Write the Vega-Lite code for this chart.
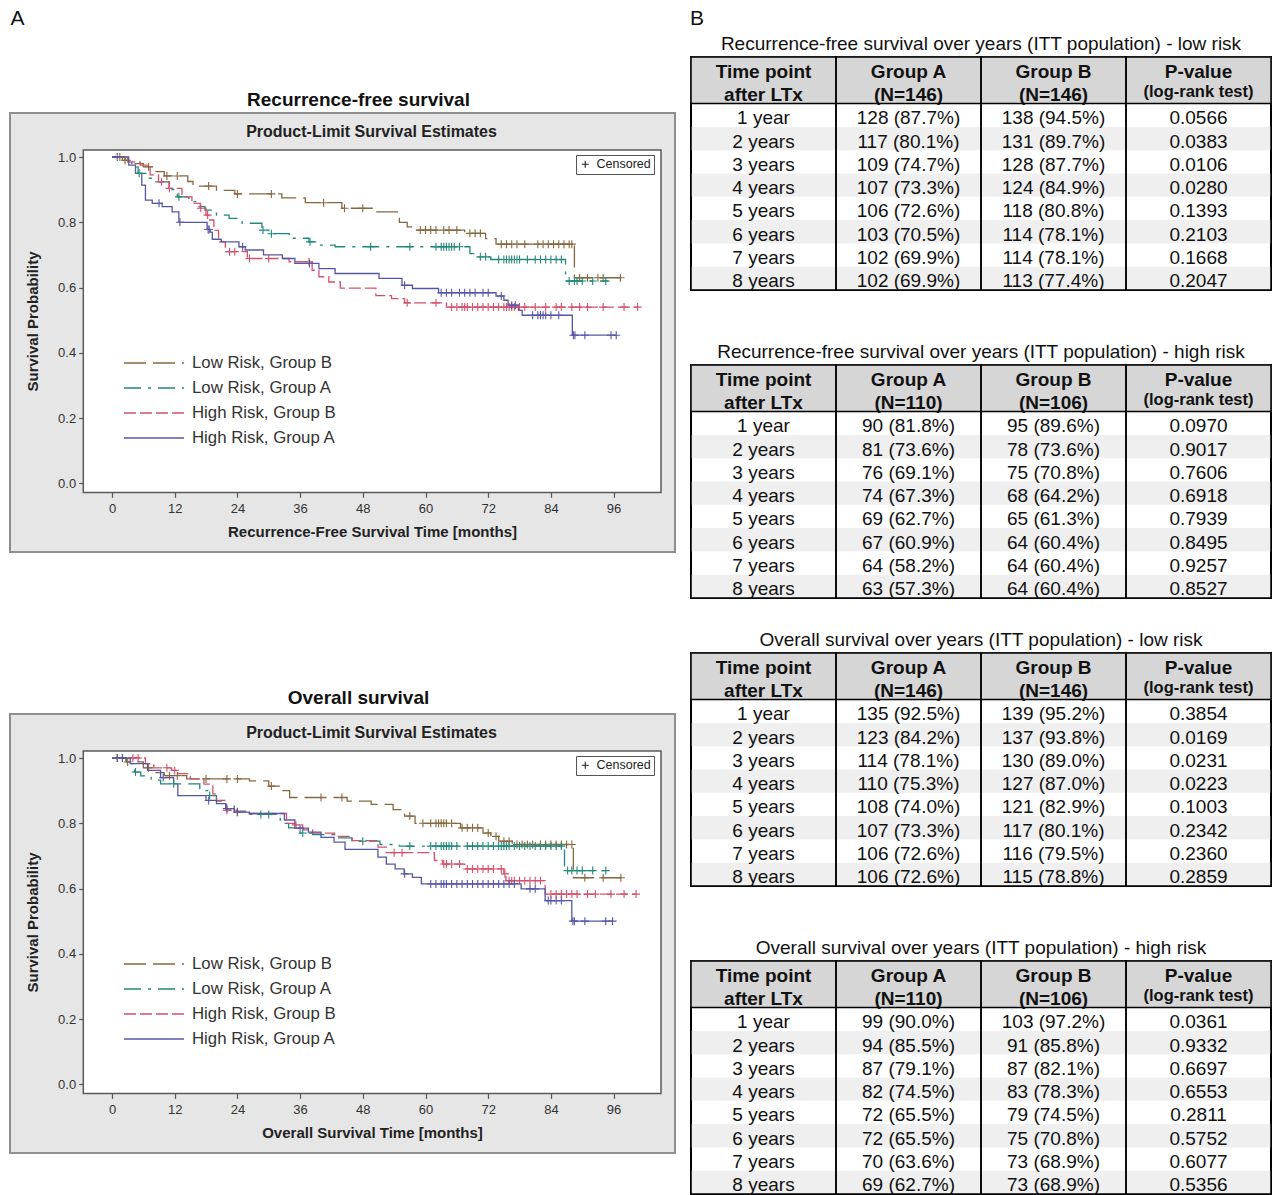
{
"$schema":"https://vega.github.io/schema/vega-lite/v6.json",
"background":"white",
"padding":{"left":9,"top":8,"right":0,"bottom":0},
"config":{"font":"Liberation Sans","view":{"stroke":null},"title":{"color":"#111"}},
"spacing":13,
"hconcat":[
{"spacing":62,
 "resolve":{"scale":{"color":"independent","strokeDash":"independent","shape":"independent","stroke":"independent"},"legend":{"color":"independent","strokeDash":"independent","shape":"independent"}},
 "vconcat":[
  {"width":15,"height":20,"data":{"values":[{"lab":"A"}]},"mark":{"type":"text","fontSize":21,"color":"#111"},"encoding":{"text":{"field":"lab","type":"nominal"}}},
  {"spacing":136,
   "resolve":{"scale":{"color":"independent","strokeDash":"independent","shape":"independent","stroke":"independent"},"legend":{"color":"independent","strokeDash":"independent","shape":"independent"}},
   "vconcat":[
  {"title":{"text":"Recurrence-free survival","anchor":"middle","fontSize":19,"fontWeight":"bold","offset":2,"dx":16},
   "resolve":{"scale":{"color":"independent","strokeDash":"independent","shape":"independent","stroke":"independent"},"legend":{"color":"independent","strokeDash":"independent","shape":"independent"}},
   "vconcat":[
    {"width":665,"height":439,
     "view":{"fill":"#e6e6e6","stroke":"#8f8f8f","strokeWidth":2},
     "title":{"text":"Product-Limit Survival Estimates","fontSize":16,"fontWeight":"bold","color":"#222","offset":-27,"frame":"group","anchor":"middle","dx":29},
     "layer":[
      {"data":{"values":[{"k":1}]},"mark":{"type":"rect","fill":"white","stroke":"#5a5a5a","strokeWidth":1.5},
       "encoding":{
        "x":{"datum":-5.49,"type":"quantitative","scale":{"domain":[-19.52,107.75],"nice":false,"zero":false},
           "axis":{"title":"Recurrence-Free Survival Time [months]","values":[0,12,24,36,48,60,72,84,96],"offset":-59.7,"domain":false,"grid":false,"tickSize":5,"tickColor":"#555","tickWidth":1.2,"labelFontSize":13,"labelColor":"#333","labelPadding":5,"titleFontSize":15,"titleFontWeight":"bold","titleColor":"#222","titlePadding":9,"titleX":362}},
        "x2":{"datum":105.07},
        "y":{"datum":-0.0285,"type":"quantitative","scale":{"domain":[-0.2105,1.1349],"nice":false,"zero":false},
           "axis":{"title":"Survival Probability","values":[0,0.2,0.4,0.6,0.8,1],"format":".1f","offset":-73.7,"domain":false,"grid":false,"tickSize":5,"tickColor":"#555","tickWidth":1.2,"labelFontSize":13,"labelColor":"#333","labelPadding":3,"titleFontSize":15,"titleFontWeight":"bold","titleColor":"#222","titlePadding":17,"titleY":208}},
        "y2":{"datum":1.0215}}},
      {"data":{"name":"rfs"},"mark":{"type":"line","interpolate":"step-after","strokeWidth":1.3},
       "encoding":{
        "x":{"field":"t","type":"quantitative"},
        "y":{"field":"s","type":"quantitative"},
        "color":{"field":"g","type":"nominal","scale":{"domain":["LB","LA","HB","HA"],"range":["#86683f","#22897a","#d5506c","#5656a6"]},
          "legend":{"title":null,"orient":"none","legendX":157,"legendY":241,"symbolType":"M-6.5,0H1","symbolSize":256,"symbolStrokeWidth":1.5,"labelFontSize":16.8,"labelColor":"#333","labelOffset":7,"rowPadding":7,"padding":0,
            "labelExpr":"datum.label === 'LB' ? 'Low Risk, Group B' : datum.label === 'LA' ? 'Low Risk, Group A' : datum.label === 'HB' ? 'High Risk, Group B' : 'High Risk, Group A'"}},
        "strokeDash":{"field":"g","type":"nominal","scale":{"domain":["LB","LA","HB","HA"],"range":[[22,7],[17,7,3,7],[12,4],[1,0]]},
          "legend":{"title":null,"orient":"none","legendX":157,"legendY":241,"symbolType":"M-6.5,0H1","symbolSize":256,"symbolStrokeWidth":1.5,"labelFontSize":16.8,"labelColor":"#333","labelOffset":7,"rowPadding":7,"padding":0,
            "labelExpr":"datum.label === 'LB' ? 'Low Risk, Group B' : datum.label === 'LA' ? 'Low Risk, Group A' : datum.label === 'HB' ? 'High Risk, Group B' : 'High Risk, Group A'"}}
       }},
      {"data":{"name":"rfsc"},"mark":{"type":"point","filled":false,"size":64,"strokeWidth":1.1,"opacity":1},
       "encoding":{
        "x":{"field":"t","type":"quantitative"},
        "y":{"field":"s","type":"quantitative"},
        "stroke":{"field":"g","type":"nominal","scale":{"domain":["LB","LA","HB","HA"],"range":["#86683f","#22897a","#d5506c","#5656a6"]},"legend":null},
        "shape":{"datum":"Censored","type":"nominal","scale":{"range":["M-1,0H1M0,-1V1"]},
          "legend":{"title":null,"orient":"none","legendX":566,"legendY":42,"strokeColor":"#555","padding":3,"symbolSize":49,"symbolStrokeColor":"#222","symbolStrokeWidth":1.1,"symbolFillColor":"transparent","labelFontSize":12.5,"labelColor":"#222","labelOffset":5}}
       }}
     ]}
   ]},
  {"title":{"text":"Overall survival","anchor":"middle","fontSize":19,"fontWeight":"bold","offset":5,"dx":16},
   "resolve":{"scale":{"color":"independent","strokeDash":"independent","shape":"independent","stroke":"independent"},"legend":{"color":"independent","strokeDash":"independent","shape":"independent"}},
   "vconcat":[
    {"width":665,"height":439,
     "view":{"fill":"#e6e6e6","stroke":"#8f8f8f","strokeWidth":2},
     "title":{"text":"Product-Limit Survival Estimates","fontSize":16,"fontWeight":"bold","color":"#222","offset":-27,"frame":"group","anchor":"middle","dx":29},
     "layer":[
      {"data":{"values":[{"k":1}]},"mark":{"type":"rect","fill":"white","stroke":"#5a5a5a","strokeWidth":1.5},
       "encoding":{
        "x":{"datum":-5.49,"type":"quantitative","scale":{"domain":[-19.52,107.75],"nice":false,"zero":false},
           "axis":{"title":"Overall Survival Time [months]","values":[0,12,24,36,48,60,72,84,96],"offset":-59.7,"domain":false,"grid":false,"tickSize":5,"tickColor":"#555","tickWidth":1.2,"labelFontSize":13,"labelColor":"#333","labelPadding":5,"titleFontSize":15,"titleFontWeight":"bold","titleColor":"#222","titlePadding":9,"titleX":362}},
        "x2":{"datum":105.07},
        "y":{"datum":-0.0285,"type":"quantitative","scale":{"domain":[-0.2105,1.1349],"nice":false,"zero":false},
           "axis":{"title":"Survival Probability","values":[0,0.2,0.4,0.6,0.8,1],"format":".1f","offset":-73.7,"domain":false,"grid":false,"tickSize":5,"tickColor":"#555","tickWidth":1.2,"labelFontSize":13,"labelColor":"#333","labelPadding":3,"titleFontSize":15,"titleFontWeight":"bold","titleColor":"#222","titlePadding":17,"titleY":208}},
        "y2":{"datum":1.0215}}},
      {"data":{"name":"os"},"mark":{"type":"line","interpolate":"step-after","strokeWidth":1.3},
       "encoding":{
        "x":{"field":"t","type":"quantitative"},
        "y":{"field":"s","type":"quantitative"},
        "color":{"field":"g","type":"nominal","scale":{"domain":["LB","LA","HB","HA"],"range":["#86683f","#22897a","#d5506c","#5656a6"]},
          "legend":{"title":null,"orient":"none","legendX":157,"legendY":241,"symbolType":"M-6.5,0H1","symbolSize":256,"symbolStrokeWidth":1.5,"labelFontSize":16.8,"labelColor":"#333","labelOffset":7,"rowPadding":7,"padding":0,
            "labelExpr":"datum.label === 'LB' ? 'Low Risk, Group B' : datum.label === 'LA' ? 'Low Risk, Group A' : datum.label === 'HB' ? 'High Risk, Group B' : 'High Risk, Group A'"}},
        "strokeDash":{"field":"g","type":"nominal","scale":{"domain":["LB","LA","HB","HA"],"range":[[22,7],[17,7,3,7],[12,4],[1,0]]},
          "legend":{"title":null,"orient":"none","legendX":157,"legendY":241,"symbolType":"M-6.5,0H1","symbolSize":256,"symbolStrokeWidth":1.5,"labelFontSize":16.8,"labelColor":"#333","labelOffset":7,"rowPadding":7,"padding":0,
            "labelExpr":"datum.label === 'LB' ? 'Low Risk, Group B' : datum.label === 'LA' ? 'Low Risk, Group A' : datum.label === 'HB' ? 'High Risk, Group B' : 'High Risk, Group A'"}}
       }},
      {"data":{"name":"osc"},"mark":{"type":"point","filled":false,"size":64,"strokeWidth":1.1,"opacity":1},
       "encoding":{
        "x":{"field":"t","type":"quantitative"},
        "y":{"field":"s","type":"quantitative"},
        "stroke":{"field":"g","type":"nominal","scale":{"domain":["LB","LA","HB","HA"],"range":["#86683f","#22897a","#d5506c","#5656a6"]},"legend":null},
        "shape":{"datum":"Censored","type":"nominal","scale":{"range":["M-1,0H1M0,-1V1"]},
          "legend":{"title":null,"orient":"none","legendX":566,"legendY":42,"strokeColor":"#555","padding":3,"symbolSize":49,"symbolStrokeColor":"#222","symbolStrokeWidth":1.1,"symbolFillColor":"transparent","labelFontSize":12.5,"labelColor":"#222","labelOffset":5}}
       }}
     ]}
   ]}
  ]}
 ]},
{"spacing":5,
 "vconcat":[
  {"width":12,"height":20,"data":{"values":[{"lab":"B"}]},"mark":{"type":"text","fontSize":21,"color":"#111"},"encoding":{"text":{"field":"lab","type":"nominal"}}},
  {"spacing":29,"vconcat":[
  {"spacing":49,"vconcat":[
   {"title":{"text":"Recurrence-free survival over years (ITT population) - low risk","fontSize":19,"fontWeight":"normal","color":"#111","offset":2},
    "width":580,"height":233,"view":{"stroke":"black","strokeWidth":2},
    "data":{"name":"t1"},"transform":[{"fold":["t","a","b","p"]}],
    "layer":[
     {"transform":[{"filter":"datum.key === 't' && (datum.r === 'h1' || datum.r === 'h2')"}],"mark":{"type":"rect","fill":"#d6d6d6","stroke":"#d6d6d6","strokeWidth":1},"encoding":{"y":{"field":"r","type":"nominal","scale":{"domain":["h1","h2","1 year","2 years","3 years","4 years","5 years","6 years","7 years","8 years"],"paddingInner":0,"paddingOuter":0},"axis":null}}},
     {"transform":[{"filter":"datum.key === 't' && indexof(['2 years','4 years','6 years','8 years'], datum.r) >= 0"}],"mark":{"type":"rect","fill":"#efefef"},"encoding":{"y":{"field":"r","type":"nominal","axis":null}}},
     {"transform":[{"filter":"datum.r === 'h1'"}],"mark":{"type":"rect","fill":"transparent","stroke":"black","strokeWidth":1.5},"encoding":{"x":{"field":"key","type":"nominal","scale":{"domain":["t","a","b","p"],"paddingInner":0,"paddingOuter":0},"axis":null}}},
     {"transform":[{"filter":"datum.r === 'h2' && datum.key === 't'"}],"mark":{"type":"rule","stroke":"black","strokeWidth":1.5},"encoding":{"y":{"field":"r","type":"nominal","bandPosition":1,"axis":null}}},
     {"transform":[{"filter":"datum.r !== 'h1' && datum.r !== 'h2'"}],"mark":{"type":"text","fontSize":19,"color":"#111","dy":3},"encoding":{"x":{"field":"key","type":"nominal","axis":null},"y":{"field":"r","type":"nominal","axis":null},"text":{"field":"value","type":"nominal"}}},
     {"transform":[{"filter":"datum.r === 'h1'"}],"mark":{"type":"text","fontSize":19,"fontWeight":"bold","color":"#111","dy":3},"encoding":{"x":{"field":"key","type":"nominal","axis":null},"y":{"field":"r","type":"nominal","axis":null},"text":{"field":"value","type":"nominal"}}},
     {"transform":[{"filter":"datum.r === 'h2' && datum.key !== 'p'"}],"mark":{"type":"text","fontSize":19,"fontWeight":"bold","color":"#111","dy":3},"encoding":{"x":{"field":"key","type":"nominal","axis":null},"y":{"field":"r","type":"nominal","axis":null},"text":{"field":"value","type":"nominal"}}},
     {"transform":[{"filter":"datum.r === 'h2' && datum.key === 'p'"}],"mark":{"type":"text","fontSize":16.5,"fontWeight":"bold","color":"#111","dy":0},"encoding":{"x":{"field":"key","type":"nominal","axis":null},"y":{"field":"r","type":"nominal","axis":null},"text":{"field":"value","type":"nominal"}}}
    ]},
   {"title":{"text":"Recurrence-free survival over years (ITT population) - high risk","fontSize":19,"fontWeight":"normal","color":"#111","offset":2},
    "width":580,"height":233,"view":{"stroke":"black","strokeWidth":2},
    "data":{"name":"t2"},"transform":[{"fold":["t","a","b","p"]}],
    "layer":[
     {"transform":[{"filter":"datum.key === 't' && (datum.r === 'h1' || datum.r === 'h2')"}],"mark":{"type":"rect","fill":"#d6d6d6","stroke":"#d6d6d6","strokeWidth":1},"encoding":{"y":{"field":"r","type":"nominal","scale":{"domain":["h1","h2","1 year","2 years","3 years","4 years","5 years","6 years","7 years","8 years"],"paddingInner":0,"paddingOuter":0},"axis":null}}},
     {"transform":[{"filter":"datum.key === 't' && indexof(['2 years','4 years','6 years','8 years'], datum.r) >= 0"}],"mark":{"type":"rect","fill":"#efefef"},"encoding":{"y":{"field":"r","type":"nominal","axis":null}}},
     {"transform":[{"filter":"datum.r === 'h1'"}],"mark":{"type":"rect","fill":"transparent","stroke":"black","strokeWidth":1.5},"encoding":{"x":{"field":"key","type":"nominal","scale":{"domain":["t","a","b","p"],"paddingInner":0,"paddingOuter":0},"axis":null}}},
     {"transform":[{"filter":"datum.r === 'h2' && datum.key === 't'"}],"mark":{"type":"rule","stroke":"black","strokeWidth":1.5},"encoding":{"y":{"field":"r","type":"nominal","bandPosition":1,"axis":null}}},
     {"transform":[{"filter":"datum.r !== 'h1' && datum.r !== 'h2'"}],"mark":{"type":"text","fontSize":19,"color":"#111","dy":3},"encoding":{"x":{"field":"key","type":"nominal","axis":null},"y":{"field":"r","type":"nominal","axis":null},"text":{"field":"value","type":"nominal"}}},
     {"transform":[{"filter":"datum.r === 'h1'"}],"mark":{"type":"text","fontSize":19,"fontWeight":"bold","color":"#111","dy":3},"encoding":{"x":{"field":"key","type":"nominal","axis":null},"y":{"field":"r","type":"nominal","axis":null},"text":{"field":"value","type":"nominal"}}},
     {"transform":[{"filter":"datum.r === 'h2' && datum.key !== 'p'"}],"mark":{"type":"text","fontSize":19,"fontWeight":"bold","color":"#111","dy":3},"encoding":{"x":{"field":"key","type":"nominal","axis":null},"y":{"field":"r","type":"nominal","axis":null},"text":{"field":"value","type":"nominal"}}},
     {"transform":[{"filter":"datum.r === 'h2' && datum.key === 'p'"}],"mark":{"type":"text","fontSize":16.5,"fontWeight":"bold","color":"#111","dy":0},"encoding":{"x":{"field":"key","type":"nominal","axis":null},"y":{"field":"r","type":"nominal","axis":null},"text":{"field":"value","type":"nominal"}}}
    ]}
  ]},
  {"spacing":49,"vconcat":[
   {"title":{"text":"Overall survival over years (ITT population) - low risk","fontSize":19,"fontWeight":"normal","color":"#111","offset":2},
    "width":580,"height":233,"view":{"stroke":"black","strokeWidth":2},
    "data":{"name":"t3"},"transform":[{"fold":["t","a","b","p"]}],
    "layer":[
     {"transform":[{"filter":"datum.key === 't' && (datum.r === 'h1' || datum.r === 'h2')"}],"mark":{"type":"rect","fill":"#d6d6d6","stroke":"#d6d6d6","strokeWidth":1},"encoding":{"y":{"field":"r","type":"nominal","scale":{"domain":["h1","h2","1 year","2 years","3 years","4 years","5 years","6 years","7 years","8 years"],"paddingInner":0,"paddingOuter":0},"axis":null}}},
     {"transform":[{"filter":"datum.key === 't' && indexof(['2 years','4 years','6 years','8 years'], datum.r) >= 0"}],"mark":{"type":"rect","fill":"#efefef"},"encoding":{"y":{"field":"r","type":"nominal","axis":null}}},
     {"transform":[{"filter":"datum.r === 'h1'"}],"mark":{"type":"rect","fill":"transparent","stroke":"black","strokeWidth":1.5},"encoding":{"x":{"field":"key","type":"nominal","scale":{"domain":["t","a","b","p"],"paddingInner":0,"paddingOuter":0},"axis":null}}},
     {"transform":[{"filter":"datum.r === 'h2' && datum.key === 't'"}],"mark":{"type":"rule","stroke":"black","strokeWidth":1.5},"encoding":{"y":{"field":"r","type":"nominal","bandPosition":1,"axis":null}}},
     {"transform":[{"filter":"datum.r !== 'h1' && datum.r !== 'h2'"}],"mark":{"type":"text","fontSize":19,"color":"#111","dy":3},"encoding":{"x":{"field":"key","type":"nominal","axis":null},"y":{"field":"r","type":"nominal","axis":null},"text":{"field":"value","type":"nominal"}}},
     {"transform":[{"filter":"datum.r === 'h1'"}],"mark":{"type":"text","fontSize":19,"fontWeight":"bold","color":"#111","dy":3},"encoding":{"x":{"field":"key","type":"nominal","axis":null},"y":{"field":"r","type":"nominal","axis":null},"text":{"field":"value","type":"nominal"}}},
     {"transform":[{"filter":"datum.r === 'h2' && datum.key !== 'p'"}],"mark":{"type":"text","fontSize":19,"fontWeight":"bold","color":"#111","dy":3},"encoding":{"x":{"field":"key","type":"nominal","axis":null},"y":{"field":"r","type":"nominal","axis":null},"text":{"field":"value","type":"nominal"}}},
     {"transform":[{"filter":"datum.r === 'h2' && datum.key === 'p'"}],"mark":{"type":"text","fontSize":16.5,"fontWeight":"bold","color":"#111","dy":0},"encoding":{"x":{"field":"key","type":"nominal","axis":null},"y":{"field":"r","type":"nominal","axis":null},"text":{"field":"value","type":"nominal"}}}
    ]},
   {"title":{"text":"Overall survival over years (ITT population) - high risk","fontSize":19,"fontWeight":"normal","color":"#111","offset":2},
    "width":580,"height":233,"view":{"stroke":"black","strokeWidth":2},
    "data":{"name":"t4"},"transform":[{"fold":["t","a","b","p"]}],
    "layer":[
     {"transform":[{"filter":"datum.key === 't' && (datum.r === 'h1' || datum.r === 'h2')"}],"mark":{"type":"rect","fill":"#d6d6d6","stroke":"#d6d6d6","strokeWidth":1},"encoding":{"y":{"field":"r","type":"nominal","scale":{"domain":["h1","h2","1 year","2 years","3 years","4 years","5 years","6 years","7 years","8 years"],"paddingInner":0,"paddingOuter":0},"axis":null}}},
     {"transform":[{"filter":"datum.key === 't' && indexof(['2 years','4 years','6 years','8 years'], datum.r) >= 0"}],"mark":{"type":"rect","fill":"#efefef"},"encoding":{"y":{"field":"r","type":"nominal","axis":null}}},
     {"transform":[{"filter":"datum.r === 'h1'"}],"mark":{"type":"rect","fill":"transparent","stroke":"black","strokeWidth":1.5},"encoding":{"x":{"field":"key","type":"nominal","scale":{"domain":["t","a","b","p"],"paddingInner":0,"paddingOuter":0},"axis":null}}},
     {"transform":[{"filter":"datum.r === 'h2' && datum.key === 't'"}],"mark":{"type":"rule","stroke":"black","strokeWidth":1.5},"encoding":{"y":{"field":"r","type":"nominal","bandPosition":1,"axis":null}}},
     {"transform":[{"filter":"datum.r !== 'h1' && datum.r !== 'h2'"}],"mark":{"type":"text","fontSize":19,"color":"#111","dy":3},"encoding":{"x":{"field":"key","type":"nominal","axis":null},"y":{"field":"r","type":"nominal","axis":null},"text":{"field":"value","type":"nominal"}}},
     {"transform":[{"filter":"datum.r === 'h1'"}],"mark":{"type":"text","fontSize":19,"fontWeight":"bold","color":"#111","dy":3},"encoding":{"x":{"field":"key","type":"nominal","axis":null},"y":{"field":"r","type":"nominal","axis":null},"text":{"field":"value","type":"nominal"}}},
     {"transform":[{"filter":"datum.r === 'h2' && datum.key !== 'p'"}],"mark":{"type":"text","fontSize":19,"fontWeight":"bold","color":"#111","dy":3},"encoding":{"x":{"field":"key","type":"nominal","axis":null},"y":{"field":"r","type":"nominal","axis":null},"text":{"field":"value","type":"nominal"}}},
     {"transform":[{"filter":"datum.r === 'h2' && datum.key === 'p'"}],"mark":{"type":"text","fontSize":16.5,"fontWeight":"bold","color":"#111","dy":0},"encoding":{"x":{"field":"key","type":"nominal","axis":null},"y":{"field":"r","type":"nominal","axis":null},"text":{"field":"value","type":"nominal"}}}
    ]}
  ]}
  ]}
 ]}
],
"datasets":{
"t1":[
{"r":"h1","t":"Time point","a":"Group A","b":"Group B","p":"P-value"},
{"r":"h2","t":"after LTx","a":"(N=146)","b":"(N=146)","p":"(log-rank test)"},
{"r":"1 year","t":"1 year","a":"128 (87.7%)","b":"138 (94.5%)","p":"0.0566"},
{"r":"2 years","t":"2 years","a":"117 (80.1%)","b":"131 (89.7%)","p":"0.0383"},
{"r":"3 years","t":"3 years","a":"109 (74.7%)","b":"128 (87.7%)","p":"0.0106"},
{"r":"4 years","t":"4 years","a":"107 (73.3%)","b":"124 (84.9%)","p":"0.0280"},
{"r":"5 years","t":"5 years","a":"106 (72.6%)","b":"118 (80.8%)","p":"0.1393"},
{"r":"6 years","t":"6 years","a":"103 (70.5%)","b":"114 (78.1%)","p":"0.2103"},
{"r":"7 years","t":"7 years","a":"102 (69.9%)","b":"114 (78.1%)","p":"0.1668"},
{"r":"8 years","t":"8 years","a":"102 (69.9%)","b":"113 (77.4%)","p":"0.2047"}],
"t2":[
{"r":"h1","t":"Time point","a":"Group A","b":"Group B","p":"P-value"},
{"r":"h2","t":"after LTx","a":"(N=110)","b":"(N=106)","p":"(log-rank test)"},
{"r":"1 year","t":"1 year","a":"90 (81.8%)","b":"95 (89.6%)","p":"0.0970"},
{"r":"2 years","t":"2 years","a":"81 (73.6%)","b":"78 (73.6%)","p":"0.9017"},
{"r":"3 years","t":"3 years","a":"76 (69.1%)","b":"75 (70.8%)","p":"0.7606"},
{"r":"4 years","t":"4 years","a":"74 (67.3%)","b":"68 (64.2%)","p":"0.6918"},
{"r":"5 years","t":"5 years","a":"69 (62.7%)","b":"65 (61.3%)","p":"0.7939"},
{"r":"6 years","t":"6 years","a":"67 (60.9%)","b":"64 (60.4%)","p":"0.8495"},
{"r":"7 years","t":"7 years","a":"64 (58.2%)","b":"64 (60.4%)","p":"0.9257"},
{"r":"8 years","t":"8 years","a":"63 (57.3%)","b":"64 (60.4%)","p":"0.8527"}],
"t3":[
{"r":"h1","t":"Time point","a":"Group A","b":"Group B","p":"P-value"},
{"r":"h2","t":"after LTx","a":"(N=146)","b":"(N=146)","p":"(log-rank test)"},
{"r":"1 year","t":"1 year","a":"135 (92.5%)","b":"139 (95.2%)","p":"0.3854"},
{"r":"2 years","t":"2 years","a":"123 (84.2%)","b":"137 (93.8%)","p":"0.0169"},
{"r":"3 years","t":"3 years","a":"114 (78.1%)","b":"130 (89.0%)","p":"0.0231"},
{"r":"4 years","t":"4 years","a":"110 (75.3%)","b":"127 (87.0%)","p":"0.0223"},
{"r":"5 years","t":"5 years","a":"108 (74.0%)","b":"121 (82.9%)","p":"0.1003"},
{"r":"6 years","t":"6 years","a":"107 (73.3%)","b":"117 (80.1%)","p":"0.2342"},
{"r":"7 years","t":"7 years","a":"106 (72.6%)","b":"116 (79.5%)","p":"0.2360"},
{"r":"8 years","t":"8 years","a":"106 (72.6%)","b":"115 (78.8%)","p":"0.2859"}],
"t4":[
{"r":"h1","t":"Time point","a":"Group A","b":"Group B","p":"P-value"},
{"r":"h2","t":"after LTx","a":"(N=110)","b":"(N=106)","p":"(log-rank test)"},
{"r":"1 year","t":"1 year","a":"99 (90.0%)","b":"103 (97.2%)","p":"0.0361"},
{"r":"2 years","t":"2 years","a":"94 (85.5%)","b":"91 (85.8%)","p":"0.9332"},
{"r":"3 years","t":"3 years","a":"87 (79.1%)","b":"87 (82.1%)","p":"0.6697"},
{"r":"4 years","t":"4 years","a":"82 (74.5%)","b":"83 (78.3%)","p":"0.6553"},
{"r":"5 years","t":"5 years","a":"72 (65.5%)","b":"79 (74.5%)","p":"0.2811"},
{"r":"6 years","t":"6 years","a":"72 (65.5%)","b":"75 (70.8%)","p":"0.5752"},
{"r":"7 years","t":"7 years","a":"70 (63.6%)","b":"73 (68.9%)","p":"0.6077"},
{"r":"8 years","t":"8 years","a":"69 (62.7%)","b":"73 (68.9%)","p":"0.5356"}],
"rfs":[
{"g":"LB","t":0,"s":1},{"g":"LB","t":2,"s":0.99},{"g":"LB","t":4,"s":0.98},{"g":"LB","t":6,"s":0.97},{"g":"LB","t":8,"s":0.955},{"g":"LB","t":10,"s":0.942},{"g":"LB","t":14.5,"s":0.925},{"g":"LB","t":15.5,"s":0.911},{"g":"LB","t":20,"s":0.898},{"g":"LB","t":23.5,"s":0.887},{"g":"LB","t":32.5,"s":0.875},{"g":"LB","t":37,"s":0.86},{"g":"LB","t":44,"s":0.843},{"g":"LB","t":50,"s":0.832},{"g":"LB","t":55,"s":0.8},{"g":"LB","t":56.5,"s":0.786},{"g":"LB","t":58,"s":0.776},{"g":"LB","t":67.5,"s":0.766},{"g":"LB","t":71.5,"s":0.75},{"g":"LB","t":73.5,"s":0.733},{"g":"LB","t":88.5,"s":0.63},{"g":"LB","t":97.3,"s":0.63},
{"g":"LA","t":0,"s":1},{"g":"LA","t":2.5,"s":0.985},{"g":"LA","t":3.8,"s":0.97},{"g":"LA","t":5,"s":0.95},{"g":"LA","t":6.5,"s":0.935},{"g":"LA","t":8,"s":0.924},{"g":"LA","t":11,"s":0.9},{"g":"LA","t":12.5,"s":0.878},{"g":"LA","t":14.7,"s":0.863},{"g":"LA","t":16.3,"s":0.848},{"g":"LA","t":17.8,"s":0.837},{"g":"LA","t":20,"s":0.822},{"g":"LA","t":22.4,"s":0.812},{"g":"LA","t":24.9,"s":0.797},{"g":"LA","t":28.7,"s":0.776},{"g":"LA","t":30,"s":0.765},{"g":"LA","t":33.9,"s":0.751},{"g":"LA","t":37.7,"s":0.74},{"g":"LA","t":39,"s":0.73},{"g":"LA","t":42.7,"s":0.725},{"g":"LA","t":68.5,"s":0.704},{"g":"LA","t":70,"s":0.694},{"g":"LA","t":72.5,"s":0.686},{"g":"LA","t":86.8,"s":0.62},{"g":"LA","t":95,"s":0.62},
{"g":"HB","t":0,"s":1},{"g":"HB","t":3,"s":0.985},{"g":"HB","t":5.4,"s":0.975},{"g":"HB","t":7.3,"s":0.945},{"g":"HB","t":8.9,"s":0.924},{"g":"HB","t":10.9,"s":0.904},{"g":"HB","t":13.4,"s":0.878},{"g":"HB","t":15.3,"s":0.858},{"g":"HB","t":16.9,"s":0.843},{"g":"HB","t":18,"s":0.822},{"g":"HB","t":18.5,"s":0.807},{"g":"HB","t":19.5,"s":0.775},{"g":"HB","t":20.4,"s":0.74},{"g":"HB","t":21.7,"s":0.71},{"g":"HB","t":25.9,"s":0.689},{"g":"HB","t":33.9,"s":0.679},{"g":"HB","t":38.3,"s":0.653},{"g":"HB","t":39.6,"s":0.633},{"g":"HB","t":41.5,"s":0.617},{"g":"HB","t":43.7,"s":0.598},{"g":"HB","t":50.5,"s":0.575},{"g":"HB","t":53.5,"s":0.566},{"g":"HB","t":56,"s":0.553},{"g":"HB","t":64,"s":0.54},{"g":"HB","t":100.6,"s":0.54},
{"g":"HA","t":0,"s":1},{"g":"HA","t":3.2,"s":0.975},{"g":"HA","t":4.5,"s":0.95},{"g":"HA","t":5.7,"s":0.914},{"g":"HA","t":6.4,"s":0.868},{"g":"HA","t":7.7,"s":0.858},{"g":"HA","t":9.6,"s":0.848},{"g":"HA","t":11.5,"s":0.832},{"g":"HA","t":12.8,"s":0.8},{"g":"HA","t":18.2,"s":0.778},{"g":"HA","t":18.8,"s":0.77},{"g":"HA","t":19.2,"s":0.748},{"g":"HA","t":20.9,"s":0.74},{"g":"HA","t":24.3,"s":0.725},{"g":"HA","t":25.5,"s":0.715},{"g":"HA","t":29,"s":0.7},{"g":"HA","t":32.6,"s":0.689},{"g":"HA","t":35,"s":0.674},{"g":"HA","t":39.6,"s":0.658},{"g":"HA","t":42.7,"s":0.643},{"g":"HA","t":51.1,"s":0.628},{"g":"HA","t":55.5,"s":0.607},{"g":"HA","t":57.5,"s":0.597},{"g":"HA","t":62.5,"s":0.584},{"g":"HA","t":73.5,"s":0.574},{"g":"HA","t":75,"s":0.561},{"g":"HA","t":75.8,"s":0.546},{"g":"HA","t":77.8,"s":0.53},{"g":"HA","t":78.5,"s":0.515},{"g":"HA","t":88.1,"s":0.454},{"g":"HA","t":96.5,"s":0.454}],
"rfsc":[
{"g":"LB","t":1.5,"s":1},{"g":"LB","t":2.5,"s":0.99},{"g":"LB","t":7,"s":0.97},{"g":"LB","t":10.5,"s":0.942},{"g":"LB","t":12.5,"s":0.942},{"g":"LB","t":18.5,"s":0.911},{"g":"LB","t":24,"s":0.887},{"g":"LB","t":30.5,"s":0.887},{"g":"LB","t":40.5,"s":0.86},{"g":"LB","t":44.5,"s":0.843},{"g":"LB","t":48,"s":0.843},{"g":"LB","t":59,"s":0.776},{"g":"LB","t":60,"s":0.776},{"g":"LB","t":61,"s":0.776},{"g":"LB","t":62,"s":0.776},{"g":"LB","t":63.5,"s":0.776},{"g":"LB","t":64.5,"s":0.776},{"g":"LB","t":66,"s":0.776},{"g":"LB","t":68.5,"s":0.766},{"g":"LB","t":69.5,"s":0.766},{"g":"LB","t":70.5,"s":0.766},{"g":"LB","t":74.5,"s":0.733},{"g":"LB","t":75.5,"s":0.733},{"g":"LB","t":76.5,"s":0.733},{"g":"LB","t":77.5,"s":0.733},{"g":"LB","t":79,"s":0.733},{"g":"LB","t":81.5,"s":0.733},{"g":"LB","t":82.5,"s":0.733},{"g":"LB","t":83.5,"s":0.733},{"g":"LB","t":84.5,"s":0.733},{"g":"LB","t":85.5,"s":0.733},{"g":"LB","t":86.5,"s":0.733},{"g":"LB","t":87.5,"s":0.733},{"g":"LB","t":88,"s":0.733},{"g":"LB","t":89.5,"s":0.63},{"g":"LB","t":91,"s":0.63},{"g":"LB","t":93,"s":0.63},{"g":"LB","t":94,"s":0.63},{"g":"LB","t":97.3,"s":0.63},
{"g":"LA","t":5.2,"s":0.95},{"g":"LA","t":12.8,"s":0.878},{"g":"LA","t":28.9,"s":0.776},{"g":"LA","t":30.5,"s":0.765},{"g":"LA","t":37.9,"s":0.74},{"g":"LA","t":49.5,"s":0.725},{"g":"LA","t":57,"s":0.725},{"g":"LA","t":62,"s":0.725},{"g":"LA","t":63,"s":0.725},{"g":"LA","t":63.5,"s":0.725},{"g":"LA","t":64,"s":0.725},{"g":"LA","t":64.5,"s":0.725},{"g":"LA","t":65,"s":0.725},{"g":"LA","t":65.5,"s":0.725},{"g":"LA","t":66.5,"s":0.725},{"g":"LA","t":70.5,"s":0.694},{"g":"LA","t":71.5,"s":0.694},{"g":"LA","t":74,"s":0.686},{"g":"LA","t":75,"s":0.686},{"g":"LA","t":75.5,"s":0.686},{"g":"LA","t":76,"s":0.686},{"g":"LA","t":76.5,"s":0.686},{"g":"LA","t":77,"s":0.686},{"g":"LA","t":77.5,"s":0.686},{"g":"LA","t":78,"s":0.686},{"g":"LA","t":79.5,"s":0.686},{"g":"LA","t":81,"s":0.686},{"g":"LA","t":82,"s":0.686},{"g":"LA","t":83,"s":0.686},{"g":"LA","t":84,"s":0.686},{"g":"LA","t":85,"s":0.686},{"g":"LA","t":86,"s":0.686},{"g":"LA","t":87.5,"s":0.62},{"g":"LA","t":88.5,"s":0.62},{"g":"LA","t":89,"s":0.62},{"g":"LA","t":90,"s":0.62},{"g":"LA","t":92,"s":0.62},{"g":"LA","t":94.5,"s":0.62},
{"g":"HB","t":9.5,"s":0.924},{"g":"HB","t":11,"s":0.904},{"g":"HB","t":17,"s":0.843},{"g":"HB","t":18.3,"s":0.822},{"g":"HB","t":22.5,"s":0.71},{"g":"HB","t":23.5,"s":0.71},{"g":"HB","t":26.3,"s":0.689},{"g":"HB","t":30,"s":0.689},{"g":"HB","t":37.7,"s":0.679},{"g":"HB","t":56.5,"s":0.553},{"g":"HB","t":62,"s":0.553},{"g":"HB","t":65,"s":0.54},{"g":"HB","t":66,"s":0.54},{"g":"HB","t":67,"s":0.54},{"g":"HB","t":67.5,"s":0.54},{"g":"HB","t":68,"s":0.54},{"g":"HB","t":69,"s":0.54},{"g":"HB","t":70,"s":0.54},{"g":"HB","t":71,"s":0.54},{"g":"HB","t":72,"s":0.54},{"g":"HB","t":73,"s":0.54},{"g":"HB","t":74,"s":0.54},{"g":"HB","t":75,"s":0.54},{"g":"HB","t":75.5,"s":0.54},{"g":"HB","t":76,"s":0.54},{"g":"HB","t":76.5,"s":0.54},{"g":"HB","t":77,"s":0.54},{"g":"HB","t":78,"s":0.54},{"g":"HB","t":79,"s":0.54},{"g":"HB","t":81,"s":0.54},{"g":"HB","t":83,"s":0.54},{"g":"HB","t":85,"s":0.54},{"g":"HB","t":86,"s":0.54},{"g":"HB","t":88,"s":0.54},{"g":"HB","t":89.5,"s":0.54},{"g":"HB","t":91,"s":0.54},{"g":"HB","t":94,"s":0.54},{"g":"HB","t":98,"s":0.54},{"g":"HB","t":100.6,"s":0.54},
{"g":"HA","t":1,"s":1},{"g":"HA","t":9,"s":0.858},{"g":"HA","t":13,"s":0.8},{"g":"HA","t":18.4,"s":0.778},{"g":"HA","t":18.6,"s":0.778},{"g":"HA","t":25,"s":0.725},{"g":"HA","t":37.8,"s":0.674},{"g":"HA","t":56,"s":0.607},{"g":"HA","t":63,"s":0.584},{"g":"HA","t":64,"s":0.584},{"g":"HA","t":65,"s":0.584},{"g":"HA","t":66.5,"s":0.584},{"g":"HA","t":67.5,"s":0.584},{"g":"HA","t":68.5,"s":0.584},{"g":"HA","t":69.5,"s":0.584},{"g":"HA","t":71,"s":0.584},{"g":"HA","t":72,"s":0.584},{"g":"HA","t":74.5,"s":0.574},{"g":"HA","t":76.5,"s":0.546},{"g":"HA","t":77.2,"s":0.546},{"g":"HA","t":80.5,"s":0.515},{"g":"HA","t":81.5,"s":0.515},{"g":"HA","t":82,"s":0.515},{"g":"HA","t":82.5,"s":0.515},{"g":"HA","t":83,"s":0.515},{"g":"HA","t":84,"s":0.515},{"g":"HA","t":85.5,"s":0.515},{"g":"HA","t":88.3,"s":0.454},{"g":"HA","t":88.6,"s":0.454},{"g":"HA","t":90.5,"s":0.454},{"g":"HA","t":95.5,"s":0.454},{"g":"HA","t":96.5,"s":0.454}],
"os":[
{"g":"LB","t":0,"s":1},{"g":"LB","t":2.7,"s":0.988},{"g":"LB","t":6,"s":0.97},{"g":"LB","t":8,"s":0.955},{"g":"LB","t":10,"s":0.946},{"g":"LB","t":14.3,"s":0.936},{"g":"LB","t":26.3,"s":0.93},{"g":"LB","t":30,"s":0.914},{"g":"LB","t":32.5,"s":0.9},{"g":"LB","t":34,"s":0.879},{"g":"LB","t":45,"s":0.868},{"g":"LB","t":49.6,"s":0.858},{"g":"LB","t":53.8,"s":0.842},{"g":"LB","t":56,"s":0.822},{"g":"LB","t":58,"s":0.8},{"g":"LB","t":66.7,"s":0.786},{"g":"LB","t":71,"s":0.77},{"g":"LB","t":72.5,"s":0.76},{"g":"LB","t":74,"s":0.745},{"g":"LB","t":76.6,"s":0.735},{"g":"LB","t":88.3,"s":0.633},{"g":"LB","t":97.4,"s":0.633},
{"g":"LA","t":0,"s":1},{"g":"LA","t":2.7,"s":0.983},{"g":"LA","t":4.3,"s":0.957},{"g":"LA","t":5.5,"s":0.945},{"g":"LA","t":7.5,"s":0.932},{"g":"LA","t":9.3,"s":0.921},{"g":"LA","t":16.8,"s":0.9},{"g":"LA","t":18.5,"s":0.885},{"g":"LA","t":20,"s":0.868},{"g":"LA","t":21.8,"s":0.853},{"g":"LA","t":23.4,"s":0.837},{"g":"LA","t":26,"s":0.827},{"g":"LA","t":32.2,"s":0.8},{"g":"LA","t":33.8,"s":0.786},{"g":"LA","t":36,"s":0.77},{"g":"LA","t":38.4,"s":0.765},{"g":"LA","t":42.6,"s":0.755},{"g":"LA","t":45.9,"s":0.745},{"g":"LA","t":51.3,"s":0.735},{"g":"LA","t":55,"s":0.73},{"g":"LA","t":86.6,"s":0.655},{"g":"LA","t":95,"s":0.655},
{"g":"HB","t":0,"s":1},{"g":"HB","t":6.4,"s":0.983},{"g":"HB","t":8,"s":0.97},{"g":"HB","t":11.4,"s":0.962},{"g":"HB","t":12.6,"s":0.952},{"g":"HB","t":15,"s":0.936},{"g":"HB","t":17.6,"s":0.92},{"g":"HB","t":19.3,"s":0.89},{"g":"HB","t":20,"s":0.87},{"g":"HB","t":21.8,"s":0.84},{"g":"HB","t":23.9,"s":0.835},{"g":"HB","t":26,"s":0.83},{"g":"HB","t":33.4,"s":0.8},{"g":"HB","t":35,"s":0.795},{"g":"HB","t":36.5,"s":0.78},{"g":"HB","t":38.4,"s":0.77},{"g":"HB","t":42.6,"s":0.76},{"g":"HB","t":46,"s":0.747},{"g":"HB","t":50.9,"s":0.727},{"g":"HB","t":52.5,"s":0.71},{"g":"HB","t":61.7,"s":0.686},{"g":"HB","t":63.3,"s":0.675},{"g":"HB","t":67.5,"s":0.66},{"g":"HB","t":75,"s":0.645},{"g":"HB","t":75.4,"s":0.624},{"g":"HB","t":82.9,"s":0.583},{"g":"HB","t":100.3,"s":0.583},
{"g":"HA","t":0,"s":1},{"g":"HA","t":3.5,"s":0.983},{"g":"HA","t":6.8,"s":0.962},{"g":"HA","t":9.3,"s":0.94},{"g":"HA","t":11.8,"s":0.921},{"g":"HA","t":12.6,"s":0.885},{"g":"HA","t":18,"s":0.87},{"g":"HA","t":20,"s":0.86},{"g":"HA","t":21.8,"s":0.845},{"g":"HA","t":23.4,"s":0.834},{"g":"HA","t":26.3,"s":0.83},{"g":"HA","t":33,"s":0.81},{"g":"HA","t":35,"s":0.785},{"g":"HA","t":37.6,"s":0.773},{"g":"HA","t":40,"s":0.757},{"g":"HA","t":42.5,"s":0.742},{"g":"HA","t":44.6,"s":0.72},{"g":"HA","t":50.9,"s":0.696},{"g":"HA","t":52.5,"s":0.675},{"g":"HA","t":54.2,"s":0.66},{"g":"HA","t":55.9,"s":0.645},{"g":"HA","t":57.5,"s":0.634},{"g":"HA","t":59.2,"s":0.614},{"g":"HA","t":78.3,"s":0.599},{"g":"HA","t":82.9,"s":0.563},{"g":"HA","t":88,"s":0.5},{"g":"HA","t":95.8,"s":0.5}],
"osc":[
{"g":"LB","t":1,"s":1},{"g":"LB","t":2,"s":1},{"g":"LB","t":3,"s":0.988},{"g":"LB","t":7,"s":0.97},{"g":"LB","t":11,"s":0.946},{"g":"LB","t":12.5,"s":0.946},{"g":"LB","t":18,"s":0.936},{"g":"LB","t":22,"s":0.936},{"g":"LB","t":24,"s":0.936},{"g":"LB","t":30.5,"s":0.914},{"g":"LB","t":40,"s":0.879},{"g":"LB","t":44,"s":0.879},{"g":"LB","t":57,"s":0.822},{"g":"LB","t":59.5,"s":0.8},{"g":"LB","t":61,"s":0.8},{"g":"LB","t":62,"s":0.8},{"g":"LB","t":62.5,"s":0.8},{"g":"LB","t":63,"s":0.8},{"g":"LB","t":63.5,"s":0.8},{"g":"LB","t":64,"s":0.8},{"g":"LB","t":65,"s":0.8},{"g":"LB","t":67,"s":0.786},{"g":"LB","t":68,"s":0.786},{"g":"LB","t":69,"s":0.786},{"g":"LB","t":70,"s":0.786},{"g":"LB","t":72,"s":0.77},{"g":"LB","t":73.5,"s":0.76},{"g":"LB","t":75,"s":0.745},{"g":"LB","t":76,"s":0.745},{"g":"LB","t":77.5,"s":0.735},{"g":"LB","t":78.5,"s":0.735},{"g":"LB","t":79.5,"s":0.735},{"g":"LB","t":80.5,"s":0.735},{"g":"LB","t":82,"s":0.735},{"g":"LB","t":83,"s":0.735},{"g":"LB","t":84,"s":0.735},{"g":"LB","t":85,"s":0.735},{"g":"LB","t":86,"s":0.735},{"g":"LB","t":87,"s":0.735},{"g":"LB","t":88,"s":0.735},{"g":"LB","t":90.5,"s":0.633},{"g":"LB","t":94,"s":0.633},{"g":"LB","t":97.4,"s":0.633},
{"g":"LA","t":4.5,"s":0.957},{"g":"LA","t":11.8,"s":0.921},{"g":"LA","t":18.7,"s":0.885},{"g":"LA","t":28.5,"s":0.827},{"g":"LA","t":30,"s":0.827},{"g":"LA","t":36.5,"s":0.77},{"g":"LA","t":48,"s":0.745},{"g":"LA","t":57,"s":0.73},{"g":"LA","t":61,"s":0.73},{"g":"LA","t":62,"s":0.73},{"g":"LA","t":63,"s":0.73},{"g":"LA","t":63.5,"s":0.73},{"g":"LA","t":64,"s":0.73},{"g":"LA","t":64.5,"s":0.73},{"g":"LA","t":65,"s":0.73},{"g":"LA","t":66,"s":0.73},{"g":"LA","t":68,"s":0.73},{"g":"LA","t":69,"s":0.73},{"g":"LA","t":70,"s":0.73},{"g":"LA","t":71,"s":0.73},{"g":"LA","t":72,"s":0.73},{"g":"LA","t":73,"s":0.73},{"g":"LA","t":74,"s":0.73},{"g":"LA","t":74.5,"s":0.73},{"g":"LA","t":75,"s":0.73},{"g":"LA","t":75.5,"s":0.73},{"g":"LA","t":76,"s":0.73},{"g":"LA","t":77,"s":0.73},{"g":"LA","t":78,"s":0.73},{"g":"LA","t":79,"s":0.73},{"g":"LA","t":80,"s":0.73},{"g":"LA","t":81,"s":0.73},{"g":"LA","t":82,"s":0.73},{"g":"LA","t":83,"s":0.73},{"g":"LA","t":84,"s":0.73},{"g":"LA","t":85,"s":0.73},{"g":"LA","t":86,"s":0.73},{"g":"LA","t":87.2,"s":0.655},{"g":"LA","t":88,"s":0.655},{"g":"LA","t":89,"s":0.655},{"g":"LA","t":90,"s":0.655},{"g":"LA","t":92,"s":0.655},{"g":"LA","t":94.5,"s":0.655},
{"g":"HB","t":4,"s":1},{"g":"HB","t":5,"s":1},{"g":"HB","t":10.5,"s":0.97},{"g":"HB","t":12,"s":0.962},{"g":"HB","t":22,"s":0.84},{"g":"HB","t":24,"s":0.835},{"g":"HB","t":35.2,"s":0.795},{"g":"HB","t":54,"s":0.71},{"g":"HB","t":55.5,"s":0.71},{"g":"HB","t":63.5,"s":0.675},{"g":"HB","t":64,"s":0.675},{"g":"HB","t":65,"s":0.675},{"g":"HB","t":66.5,"s":0.675},{"g":"HB","t":68,"s":0.66},{"g":"HB","t":69,"s":0.66},{"g":"HB","t":70,"s":0.66},{"g":"HB","t":71,"s":0.66},{"g":"HB","t":72,"s":0.66},{"g":"HB","t":73,"s":0.66},{"g":"HB","t":74.5,"s":0.66},{"g":"HB","t":75.2,"s":0.645},{"g":"HB","t":76,"s":0.624},{"g":"HB","t":76.5,"s":0.624},{"g":"HB","t":77,"s":0.624},{"g":"HB","t":78,"s":0.624},{"g":"HB","t":79,"s":0.624},{"g":"HB","t":80,"s":0.624},{"g":"HB","t":81,"s":0.624},{"g":"HB","t":82,"s":0.624},{"g":"HB","t":84,"s":0.583},{"g":"HB","t":85,"s":0.583},{"g":"HB","t":86,"s":0.583},{"g":"HB","t":87,"s":0.583},{"g":"HB","t":88,"s":0.583},{"g":"HB","t":89,"s":0.583},{"g":"HB","t":91,"s":0.583},{"g":"HB","t":92.5,"s":0.583},{"g":"HB","t":95.5,"s":0.583},{"g":"HB","t":98,"s":0.583},{"g":"HB","t":100.3,"s":0.583},
{"g":"HA","t":1,"s":1},{"g":"HA","t":2,"s":1},{"g":"HA","t":9.8,"s":0.94},{"g":"HA","t":18.5,"s":0.87},{"g":"HA","t":22,"s":0.845},{"g":"HA","t":24,"s":0.834},{"g":"HA","t":36,"s":0.785},{"g":"HA","t":56,"s":0.645},{"g":"HA","t":61,"s":0.614},{"g":"HA","t":62,"s":0.614},{"g":"HA","t":63,"s":0.614},{"g":"HA","t":63.5,"s":0.614},{"g":"HA","t":64,"s":0.614},{"g":"HA","t":65,"s":0.614},{"g":"HA","t":66,"s":0.614},{"g":"HA","t":67,"s":0.614},{"g":"HA","t":68,"s":0.614},{"g":"HA","t":69,"s":0.614},{"g":"HA","t":70,"s":0.614},{"g":"HA","t":71,"s":0.614},{"g":"HA","t":72,"s":0.614},{"g":"HA","t":73,"s":0.614},{"g":"HA","t":74,"s":0.614},{"g":"HA","t":75,"s":0.614},{"g":"HA","t":76,"s":0.614},{"g":"HA","t":77,"s":0.614},{"g":"HA","t":80,"s":0.599},{"g":"HA","t":81,"s":0.599},{"g":"HA","t":83.5,"s":0.563},{"g":"HA","t":84,"s":0.563},{"g":"HA","t":85,"s":0.563},{"g":"HA","t":86,"s":0.563},{"g":"HA","t":88.2,"s":0.5},{"g":"HA","t":88.5,"s":0.5},{"g":"HA","t":90.5,"s":0.5},{"g":"HA","t":94.5,"s":0.5},{"g":"HA","t":95.8,"s":0.5}]
}
}
